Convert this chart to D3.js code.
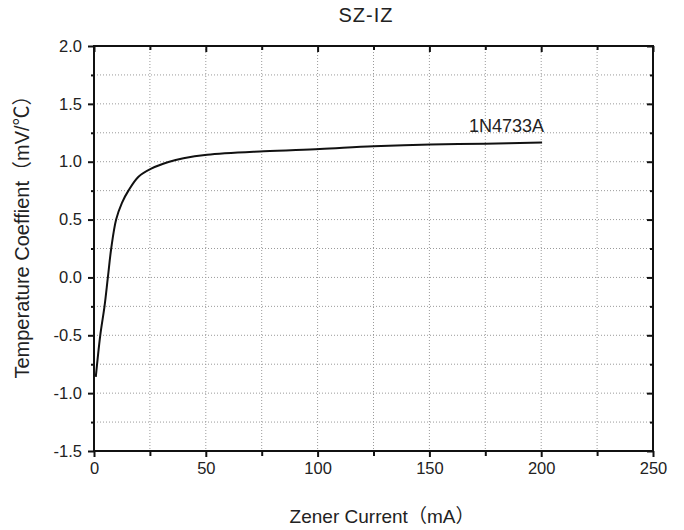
<!DOCTYPE html>
<html><head><meta charset="utf-8">
<script src="https://cdn.jsdelivr.net/npm/d3@7/dist/d3.min.js"></script>
<style>body{margin:0;background:#fff}svg{display:block}text{font-family:"Liberation Sans",Arial,"Noto Sans CJK SC",sans-serif;fill:#222}</style>
</head><body><svg id="c" width="684" height="530"></svg>
<script>
const currentMA = [0.8, 2.8, 4.7, 6.2, 7.7, 9.9, 12.5, 15.4, 19.9, 25.6, 33.3, 40, 50.6, 76, 101, 125, 150.5, 175, 200.4];
const tempCoef  = [-0.86, -0.50, -0.25, 0.0, 0.25, 0.5, 0.645, 0.75, 0.87, 0.94, 0.997, 1.03, 1.06, 1.09, 1.11, 1.133, 1.148, 1.156, 1.165];
const xTicks = [0, 50, 100, 150, 200, 250];
const yTicks = [-1.5, -1.0, -0.5, 0.0, 0.5, 1.0, 1.5, 2.0];
const xMinor = [25, 75, 125, 175, 225];
const yMinor = [-1.25, -0.75, -0.25, 0.25, 0.75, 1.25, 1.75];
const seriesName = "1N4733A";
const title = "SZ-IZ";
const xLabel = "Zener Current（mA）";
const yLabel = "Temperature Coeffient（mV/℃）";

const FONT = '"Liberation Sans",Arial,"Noto Sans CJK SC",sans-serif';
const svg = d3.select("#c");
const L = 94, R = 653, T = 46, B = 451;
const x = d3.scaleLinear().domain([0, 250]).range([L, R]);
const y = d3.scaleLinear().domain([-1.5, 2.0]).range([B, T]);

const grid = svg.append("g").attr("stroke", "#9a9a9a").attr("stroke-width", 1).attr("stroke-dasharray", "1,2");
[...xTicks.slice(1, -1), ...xMinor].forEach(v => grid.append("line").attr("x1", x(v)).attr("x2", x(v)).attr("y1", T).attr("y2", B));
[...yTicks.slice(1, -1), ...yMinor].forEach(v => grid.append("line").attr("y1", y(v)).attr("y2", y(v)).attr("x1", L).attr("x2", R));

const line = d3.line().x((d, i) => x(currentMA[i])).y((d, i) => y(tempCoef[i])).curve(d3.curveCatmullRom.alpha(0.5));
svg.append("path").datum(tempCoef).attr("d", line).attr("fill", "none").attr("stroke", "#111").attr("stroke-width", 2);

const f1 = d3.format(".1f");
const yFmt = d => f1(d).replace("\u2212", "-");
const axB = d3.axisBottom(x).tickValues(xTicks).tickSize(6).tickPadding(5).tickFormat(d3.format("d"));
const axL = d3.axisLeft(y).tickValues(yTicks).tickSize(6).tickPadding(6).tickFormat(yFmt);
const gB = svg.append("g").attr("transform", `translate(0,${B})`).call(axB);
const gL = svg.append("g").attr("transform", `translate(${L},0)`).call(axL);
const gBm = svg.append("g").attr("transform", `translate(0,${B})`).call(d3.axisBottom(x).tickValues(xMinor).tickSize(5).tickFormat(""));
const gLm = svg.append("g").attr("transform", `translate(${L},0)`).call(d3.axisLeft(y).tickValues(yMinor).tickSize(3).tickFormat(""));
const gT = svg.append("g").attr("transform", `translate(0,${T})`).call(d3.axisBottom(x).tickValues(xTicks).tickSize(6).tickFormat(""));
const gTm = svg.append("g").attr("transform", `translate(0,${T})`).call(d3.axisBottom(x).tickValues(xMinor).tickSize(4).tickFormat(""));
const gR = svg.append("g").attr("transform", `translate(${R},0)`).call(d3.axisLeft(y).tickValues(yTicks).tickSize(6).tickFormat(""));
const gRm = svg.append("g").attr("transform", `translate(${R},0)`).call(d3.axisLeft(y).tickValues(yMinor).tickSize(3).tickFormat(""));
[gB, gL, gBm, gLm, gT, gTm, gR, gRm].forEach(g => {
  g.select(".domain").remove();
  g.selectAll(".tick line").attr("stroke", "#111").attr("stroke-width", 2);
  g.selectAll(".tick text").attr("font-size", 16.5).attr("fill", "#222").style("font-family", FONT);
});
svg.append("rect").attr("x", L).attr("y", T).attr("width", R - L).attr("height", B - T)
  .attr("fill", "none").attr("stroke", "#111").attr("stroke-width", 2);

svg.append("text").attr("x", x(184.5)).attr("y", y(1.255)).attr("text-anchor", "middle").attr("font-size", 18).text(seriesName);
svg.append("text").attr("x", 366).attr("y", 22).attr("text-anchor", "middle").attr("font-size", 20).attr("letter-spacing", 1).text(title);
svg.append("text").attr("x", 382).attr("y", 523).attr("text-anchor", "middle").attr("font-size", 19).text(xLabel);
svg.append("text").attr("transform", "translate(29,232) rotate(-90)").attr("text-anchor", "middle").attr("font-size", 20).text(yLabel);
</script></body></html>
